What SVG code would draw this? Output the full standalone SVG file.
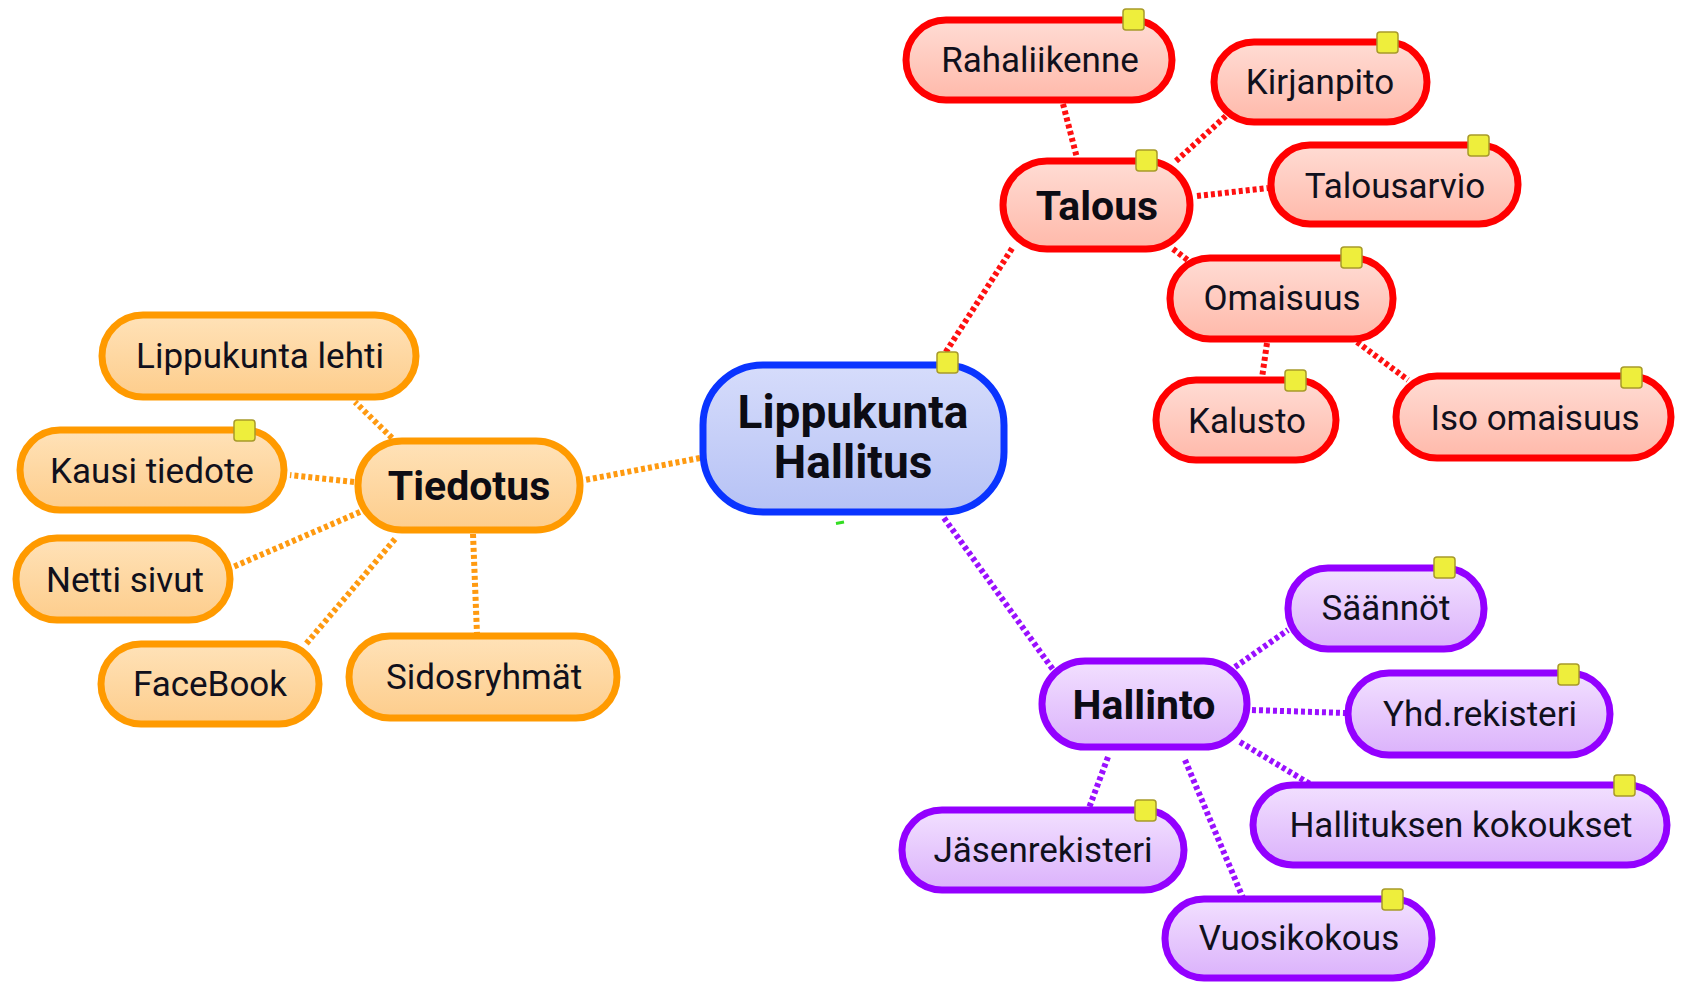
<svg xmlns="http://www.w3.org/2000/svg" width="1683" height="986" viewBox="0 0 1683 986">
<defs>
<linearGradient id="gB" x1="0" y1="0" x2="0" y2="1"><stop offset="0" stop-color="#d6dcfb"/><stop offset="1" stop-color="#b6c2f5"/></linearGradient>
<linearGradient id="gR" x1="0" y1="0" x2="0" y2="1"><stop offset="0" stop-color="#ffdcd4"/><stop offset="1" stop-color="#ffb9aa"/></linearGradient>
<linearGradient id="gO" x1="0" y1="0" x2="0" y2="1"><stop offset="0" stop-color="#ffe2b8"/><stop offset="1" stop-color="#fdcd8c"/></linearGradient>
<linearGradient id="gP" x1="0" y1="0" x2="0" y2="1"><stop offset="0" stop-color="#f2e0ff"/><stop offset="1" stop-color="#dbb2fb"/></linearGradient>
</defs>
<style>
.b{fill:url(#gB);stroke:#0a34ff;stroke-width:7}
.r{fill:url(#gR);stroke:#ff0000;stroke-width:7}
.o{fill:url(#gO);stroke:#ff9a00;stroke-width:7}
.p{fill:url(#gP);stroke:#9300ff;stroke-width:7}
.t{font-family:Roboto,"Liberation Sans",sans-serif;font-size:35px;fill:#10101c;text-anchor:middle}
.tb{font-family:Roboto,"Liberation Sans",sans-serif;font-size:41px;font-weight:bold;fill:#0c0c14;text-anchor:middle}
.tc{font-family:Roboto,"Liberation Sans",sans-serif;font-size:46px;font-weight:bold;fill:#0c0c14;text-anchor:middle}
.sq{fill:#eeee3c;stroke:#a89a2a;stroke-width:1.5}
.c{fill:none;stroke-width:6;stroke-dasharray:4 3}
.cr{stroke:#ff1010}
.co{stroke:#ff9a10}
.cp{stroke:#9a10ff}
</style>
<rect width="1683" height="986" fill="#ffffff"/>
<g id="connectors">
<line class="c co" x1="700" y1="458" x2="585" y2="480"/>
<line class="c co" x1="392" y1="438" x2="355" y2="402"/>
<line class="c co" x1="354" y1="482" x2="290" y2="475"/>
<line class="c co" x1="360" y1="512" x2="233" y2="567"/>
<line class="c co" x1="395" y1="539" x2="306" y2="644"/>
<line class="c co" x1="473" y1="534" x2="477" y2="634"/>
<line class="c cr" x1="942" y1="358" x2="1013" y2="247"/>
<line class="c cr" x1="1063" y1="104" x2="1077" y2="158"/>
<line class="c cr" x1="1176" y1="161" x2="1227" y2="115"/>
<line class="c cr" x1="1197" y1="196" x2="1268" y2="188"/>
<line class="c cr" x1="1173" y1="249" x2="1189" y2="261"/>
<line class="c cr" x1="1267" y1="343" x2="1262" y2="378"/>
<line class="c cr" x1="1357" y1="342" x2="1408" y2="380"/>
<line class="c cp" x1="944" y1="518" x2="1054" y2="671"/>
<line class="c cp" x1="1235" y1="667" x2="1288" y2="630"/>
<line class="c cp" x1="1252" y1="710" x2="1346" y2="713"/>
<line class="c cp" x1="1240" y1="742" x2="1310" y2="784"/>
<line class="c cp" x1="1185" y1="760" x2="1243" y2="898"/>
<line class="c cp" x1="1108" y1="757" x2="1089" y2="808"/>
<line x1="836" y1="523.5" x2="844" y2="522" stroke="#33dd22" stroke-width="3"/>
</g>
<g id="center"><rect class="b" x="703" y="365" width="301" height="147" rx="60"/><text class="tc" x="853" y="428">Lippukunta</text><text class="tc" x="853" y="478">Hallitus</text><rect class="sq" x="937" y="352" width="21" height="21" rx="3"/></g>
<g id="talous"><rect class="r" x="1003" y="161" width="187" height="88" rx="44"/><text class="tb" x="1097" y="220">Talous</text><rect class="sq" x="1136" y="150" width="21" height="21" rx="3"/></g>
<g id="tiedotus"><rect class="o" x="358" y="441" width="222" height="89" rx="44"/><text class="tb" x="469" y="500">Tiedotus</text></g>
<g id="hallinto"><rect class="p" x="1042" y="661" width="205" height="86" rx="43"/><text class="tb" x="1144" y="719">Hallinto</text></g>
<g id="rahaliikenne"><rect class="r" x="906" y="20" width="266" height="80" rx="40"/><text class="t" x="1040" y="72">Rahaliikenne</text><rect class="sq" x="1123" y="9" width="21" height="21" rx="3"/></g>
<g id="kirjanpito"><rect class="r" x="1214" y="42" width="213" height="80" rx="40"/><text class="t" x="1320" y="94">Kirjanpito</text><rect class="sq" x="1377" y="32" width="21" height="21" rx="3"/></g>
<g id="talousarvio"><rect class="r" x="1271" y="145" width="247" height="79" rx="39"/><text class="t" x="1395" y="198">Talousarvio</text><rect class="sq" x="1468" y="135" width="21" height="21" rx="3"/></g>
<g id="omaisuus"><rect class="r" x="1170" y="258" width="223" height="81" rx="40"/><text class="t" x="1282" y="310">Omaisuus</text><rect class="sq" x="1341" y="247" width="21" height="21" rx="3"/></g>
<g id="kalusto"><rect class="r" x="1156" y="380" width="180" height="80" rx="40"/><text class="t" x="1247" y="433">Kalusto</text><rect class="sq" x="1285" y="370" width="21" height="21" rx="3"/></g>
<g id="isoomaisuus"><rect class="r" x="1396" y="376" width="275" height="82" rx="41"/><text class="t" x="1535" y="430">Iso omaisuus</text><rect class="sq" x="1621" y="367" width="21" height="21" rx="3"/></g>
<g id="lippukuntalehti"><rect class="o" x="102" y="315" width="314" height="82" rx="41"/><text class="t" x="260" y="368">Lippukunta lehti</text></g>
<g id="kausitiedote"><rect class="o" x="20" y="430" width="264" height="80" rx="40"/><text class="t" x="152" y="483">Kausi tiedote</text><rect class="sq" x="234" y="420" width="21" height="21" rx="3"/></g>
<g id="nettisivut"><rect class="o" x="16" y="538" width="214" height="82" rx="41"/><text class="t" x="125" y="592">Netti sivut</text></g>
<g id="facebook"><rect class="o" x="101" y="644" width="218" height="80" rx="40"/><text class="t" x="210" y="696">FaceBook</text></g>
<g id="sidosryhmat"><rect class="o" x="349" y="636" width="268" height="82" rx="41"/><text class="t" x="484" y="689">Sidosryhmät</text></g>
<g id="saannot"><rect class="p" x="1288" y="568" width="196" height="81" rx="40"/><text class="t" x="1386" y="620">Säännöt</text><rect class="sq" x="1434" y="557" width="21" height="21" rx="3"/></g>
<g id="yhdrekisteri"><rect class="p" x="1348" y="673" width="262" height="82" rx="41"/><text class="t" x="1480" y="726">Yhd.rekisteri</text><rect class="sq" x="1558" y="664" width="21" height="21" rx="3"/></g>
<g id="hallituksenkokoukset"><rect class="p" x="1253" y="785" width="414" height="80" rx="40"/><text class="t" x="1461" y="837">Hallituksen kokoukset</text><rect class="sq" x="1614" y="775" width="21" height="21" rx="3"/></g>
<g id="jasenrekisteri"><rect class="p" x="902" y="810" width="282" height="80" rx="40"/><text class="t" x="1043" y="862">Jäsenrekisteri</text><rect class="sq" x="1135" y="800" width="21" height="21" rx="3"/></g>
<g id="vuosikokous"><rect class="p" x="1165" y="899" width="267" height="79" rx="39"/><text class="t" x="1299" y="950">Vuosikokous</text><rect class="sq" x="1382" y="889" width="21" height="21" rx="3"/></g>
</svg>
